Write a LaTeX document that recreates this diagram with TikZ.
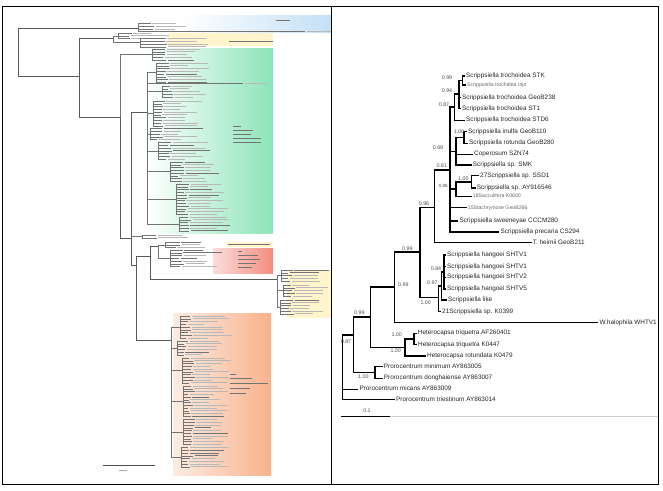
\documentclass[tikz,border=0pt]{standalone}
\usepackage{fontspec}
\setmainfont{Liberation Sans}

\definecolor{bandblue}{RGB}{196,224,246}
\definecolor{bandyel}{RGB}{255,244,204}
\definecolor{bandgreen}{RGB}{140,228,184}
\definecolor{bandred}{RGB}{244,140,128}
\definecolor{bandorange}{RGB}{248,178,140}

% one small clade of the left tree: parent, node x, first y, leaves, tip x, name
\newcommand\lgrp[6]{%
  \pgfmathsetmacro\ylo{#3}%
  \pgfmathsetmacro\yhi{#3+(#4-1)*2.75}%
  \coordinate (#6) at (#2,{(\ylo+\yhi)/2});
  \draw[lbr] (#1) |- (#6);
  \draw[lbr] (#2,\ylo) -- (#2,\yhi);
  \foreach \k in {1,...,#4}{%
    \pgfmathsetmacro\yy{#3+(\k-1)*2.75}%
    \pgfmathsetmacro\tx{#5+7*rnd}%
    \pgfmathsetmacro\ll{16+24*rnd}%
    \pgfmathtruncatemacro\dk{rnd<0.25 ? 55 : 28}%
    \draw[lbr] (#2,\yy) -- (\tx,\yy);
    \draw[ltxt, black!\dk] (\tx+1.5,\yy) -- ++(\ll,0);
  }%
}

\begin{document}
\begin{tikzpicture}[
    x=1pt, y=-1pt,
    br/.style={draw, line width=1.5pt},
    leaf/.style={anchor=west, inner sep=1pt, text height=4.6pt, text depth=1.3pt, font=\fontsize{6.4}{7}\selectfont, text=black!85},
    leafs/.style={leaf, font=\fontsize{5.2}{6}\selectfont, text=black!60},
    bval/.style={inner sep=0pt, font=\fontsize{5.3}{6}\selectfont, text=black!70},
    lbk/.style={draw, line width=0.8pt, black!65},
    lbr/.style={draw, line width=0.45pt, black!55},
    ltxt/.style={draw, line width=0.9pt},
    btxt/.style={draw, line width=1pt, black!55}
]
\useasboundingbox (0,0) rectangle (663,490);
\pgfmathsetseed{3}

% ---------------- left panel ----------------
\begin{scope}
\clip (2,6) rectangle (331,484);

% coloured clade bands
\shade[left color=white, right color=bandblue] (180,15) rectangle (331,32);
\fill[bandyel] (168,33) rectangle (273,46);
\shade[left color=white, right color=bandgreen] (147,48) rectangle (273,233);
\fill[bandyel] (227,242) rectangle (273,247);
\shade[left color=bandred!30, right color=bandred] (213,248) rectangle (273,273);
\fill[bandyel] (287,270) rectangle (331,318);
\shade[left color=bandorange!25, right color=bandorange] (173,313) rectangle (271,475);

% clade captions
\draw[btxt] (276,20) -- ++(14,0);
\draw[btxt] (229,41) -- ++(44,0);
\foreach \yy/\ll in {126/8, 130/20, 134/18, 138/28, 142/28}
  \draw[btxt] (233,\yy) -- ++(\ll,0);
\draw[btxt] (228,244.5) -- ++(42,0);
\foreach \yy/\ll in {251/4, 255/20, 259/22, 263/18, 267/14}
  \draw[btxt] (238,\yy) -- ++(\ll,0);
\foreach \yy/\ll in {374/6, 378/22, 383/38, 388/20, 393/16}
  \draw[btxt] (230,\yy) -- ++(\ll,0);

% backbone
\coordinate (l_root) at (18.3,52);
\coordinate (l_og) at (138,28.3);
\coordinate (l_n0) at (79,76.7);
\coordinate (l_ms) at (113,38);
\coordinate (l_n1) at (120,117);
\coordinate (l_n2) at (131.7,238);
\coordinate (l_gm) at (147,112);
\coordinate (l_n3) at (136.7,265);
\coordinate (l_n4) at (150,256.7);
\coordinate (l_rd) at (158,246);
\coordinate (l_rc) at (277,279.3);
\coordinate (l_or) at (171.7,340);

\draw[lbk] (l_root) |- (l_og);
\draw[lbk] (l_root) |- (l_n0);
\draw[lbk] (l_n0) |- (l_ms);
\draw[lbk] (l_n0) |- (l_n1);
\draw[lbk] (l_n1) |- (l_n2);
\draw[lbk] (l_n2) |- (l_gm);
\draw[lbk] (l_n2) |- (l_n3);
\draw[lbk] (l_n3) |- (l_n4);
\draw[lbk] (l_n3) |- (l_or);
\draw[lbk] (l_n4) |- (l_rd);
\draw[lbk] (l_n4) |- (l_rc);

% outgroup and Mesostoma
\lgrp{l_og}{138}{23.5}{3}{150}{l_og1}
\draw[lbr] (l_og) |- (305,31.5);
\draw[ltxt, black!28] (306.5,31.5) -- ++(30,0);
\lgrp{l_ms}{118}{33}{3}{126}{l_ms1}
\lgrp{l_ms}{140}{38.5}{4}{160}{l_ms2}

% green clade
\lgrp{l_n1}{152}{49}{5}{160}{l_gt}
\lgrp{l_gm}{156}{63}{8}{163}{l_g1}
\draw[lbr] (l_gm) |- (243,83.6);
\draw[ltxt, black!28] (244.5,83.6) -- ++(22,0);
\lgrp{l_gm}{162}{86}{5}{168}{l_g2}
\lgrp{l_gm}{153}{101}{10}{160}{l_g3}
\lgrp{l_gm}{150}{128.5}{5}{157}{l_g4}
\lgrp{l_gm}{158}{142.5}{7}{166}{l_g5}
\lgrp{l_gm}{170}{162}{8}{178}{l_g6}
\lgrp{l_gm}{176}{184}{12}{183}{l_g7}
\lgrp{l_gm}{179}{217}{6}{185}{l_g8}
\lgrp{l_n2}{142}{235}{2}{150}{l_gs}

% red clade and long branch
\lgrp{l_rd}{165}{242}{3}{175}{l_rd1}
\lgrp{l_rd}{170}{250}{7}{178}{l_rd2}
\lgrp{l_rc}{281}{270}{5}{286}{l_rc1}
\lgrp{l_rc}{283}{285}{5}{290}{l_rc2}
\lgrp{l_rc}{280}{300}{6}{288}{l_rc3}

% orange clade
\lgrp{l_or}{180}{316}{9}{186}{l_o1}
\lgrp{l_or}{177}{341}{6}{183}{l_o2}
\lgrp{l_or}{182}{358}{10}{188}{l_o3}
\lgrp{l_or}{183}{386}{12}{188}{l_o4}
\lgrp{l_or}{183}{419.5}{10}{188}{l_o5}
\lgrp{l_or}{181}{447.5}{8}{187}{l_o6}

% scale bar
\coordinate (l_bar_l) at (103,465);
\coordinate (l_bar_r) at (155,465);
\draw[line width=0.8pt, black!70] (l_bar_l) -- (l_bar_r);
\draw[ltxt, black!35, line width=0.8pt] (119,470.5) -- ++(8,0);
\end{scope}

% ---------------- right panel ----------------
\begin{scope}
\clip (331,6) rectangle (658,484);

% leaves
\node[leaf] (t_stk) at (465,76) {Scrippsiella trochoidea STK};
\node[leafs] (t_injo) at (466,85) {Scrippsiella trochidea Injo};
\node[leaf] (t_g238) at (461,97.7) {Scrippsiella trochoidea GeoB238};
\node[leaf] (t_st1) at (461,108.7) {Scrippsiella trochoidea ST1};
\node[leaf] (t_std6) at (465,120.3) {Scrippsiella trochoidea STD6};
\node[leaf] (t_g110) at (467,131.7) {Scrippsiella inulfa GeoB110};
\node[leaf] (t_g280) at (468,143.3) {Scrippsiella rotunda GeoB280};
\node[leaf] (t_szn) at (473,154.3) {Coperosum SZN74};
\node[leaf] (t_smk) at (471.7,165) {Scrippsiella sp. SMK};
\node[leaf] (t_ssd1) at (479,175.7) {27Scrippsiella sp. SSD1};
\node[leaf] (t_ay546) at (475.7,188) {Scrippsiella sp. AY916546};
\node[leafs] (t_k0600) at (471.7,196.3) {18Sacculifera K0600};
\node[leafs] (t_g266) at (466.7,207.7) {15Stachrymose GeoB266};
\node[leaf] (t_cccm) at (458.3,221) {Scrippsiella sweeneyae CCCM280};
\node[leaf] (t_cs294) at (499.3,232) {Scrippsiella precaria CS294};
\node[leaf] (t_g211) at (531.7,242.7) {T. heimii GeoB211};
\node[leaf] (t_shtv1a) at (446,255) {Scrippsiella hangoei SHTV1};
\node[leaf] (t_shtv1b) at (446,266.7) {Scrippsiella hangoei SHTV1};
\node[leaf] (t_shtv2) at (446,277.3) {Scrippsiella hangoei SHTV2};
\node[leaf] (t_shtv5) at (446,289) {Scrippsiella hangoei SHTV5};
\node[leaf] (t_like) at (447,300) {Scrippsiella like};
\node[leaf] (t_k0399) at (441,311.7) {21Scrippsiella sp. K0399};
\node[leaf] (t_whtv) at (598.3,322.7) {W.halophila WHTV1};
\node[leaf] (t_af401) at (416.7,333.3) {Heterocapsa triquetra AF260401};
\node[leaf] (t_k0447) at (417,344.7) {Heterocapsa triquetra K0447};
\node[leaf] (t_k0479) at (426,356) {Heterocapsa rotundata K0479};
\node[leaf] (t_ay005) at (382.7,366.7) {Prorocentrum minimum AY863005};
\node[leaf] (t_ay007) at (382.7,378.3) {Prorocentrum donghaiense AY863007};
\node[leaf] (t_ay009) at (358.3,389.3) {Prorocentrum micans AY863009};
\node[leaf] (t_ay014) at (395,399.7) {Prorocentrum triestinum AY863014};

% inner nodes
\coordinate (n_root) at (342.3,345);
\coordinate (n_b) at (353.3,335);
\coordinate (n_a) at (370.7,317);
\coordinate (n_p) at (375,372.5);
\coordinate (n_c) at (394.3,287);
\coordinate (n_q) at (405,347.7);
\coordinate (n_r) at (414,339);
\coordinate (n_d) at (420,252);
\coordinate (n_i) at (434.3,207.3);
\coordinate (n_e) at (438.3,297.3);
\coordinate (n_g) at (441.5,286);
\coordinate (n_h) at (444,272);
\coordinate (n_j) at (450,170);
\coordinate (n_k) at (454.3,107);
\coordinate (n_x2) at (459,94);
\coordinate (n_x1) at (462.7,80.5);
\coordinate (n_l) at (456,151.5);
\coordinate (n_x3) at (464,137.5);
\coordinate (n_n) at (456,189);
\coordinate (n_m) at (471.7,181.8);

% branches
\draw[br] (n_root) |- (n_b);
\draw[br] (n_root) |- (t_ay009.west);
\draw[br] (n_root) |- (t_ay014.west);
\draw[br] (n_b) |- (n_a);
\draw[br] (n_b) |- (n_p);
\draw[br] (n_p) |- (t_ay005.west);
\draw[br] (n_p) |- (t_ay007.west);
\draw[br] (n_a) |- (n_c);
\draw[br] (n_a) |- (n_q);
\draw[br] (n_q) |- (n_r);
\draw[br] (n_q) |- (t_k0479.west);
\draw[br] (n_r) |- (t_af401.west);
\draw[br] (n_r) |- (t_k0447.west);
\draw[br] (n_c) |- (n_d);
\draw[br] (n_c) |- (t_whtv.west);
\draw[br] (n_d) |- (n_i);
\draw[br] (n_d) |- (n_e);
\draw[br] (n_e) |- (n_g);
\draw[br] (n_e) |- (t_k0399.west);
\draw[br] (n_g) |- (n_h);
\draw[br] (n_g) |- (t_like.west);
\draw[br] (n_h) |- (t_shtv1a.west);
\draw[br] (n_h) |- (t_shtv1b.west);
\draw[br] (n_h) |- (t_shtv2.west);
\draw[br] (n_h) |- (t_shtv5.west);
\draw[br] (n_i) |- (n_j);
\draw[br] (n_i) |- (t_g211.west);
\draw[br] (n_j) |- (n_k);
\draw[br] (n_j) |- (n_l);
\draw[br] (n_j) |- (n_n);
\draw[br] (n_j) |- (t_g266.west);
\draw[br] (n_j) |- (t_cccm.west);
\draw[br] (n_j) |- (t_cs294.west);
\draw[br] (n_k) |- (n_x2);
\draw[br] (n_k) |- (t_std6.west);
\draw[br] (n_x2) |- (n_x1);
\draw[br] (n_x2) |- (t_g238.west);
\draw[br] (n_x2) |- (t_st1.west);
\draw[br] (n_x1) |- (t_stk.west);
\draw[br] (n_x1) |- (t_injo.west);
\draw[br] (n_l) |- (n_x3);
\draw[br] (n_l) |- (t_szn.west);
\draw[br] (n_l) |- (t_smk.west);
\draw[br] (n_x3) |- (t_g110.west);
\draw[br] (n_x3) |- (t_g280.west);
\draw[br] (n_n) |- (n_m);
\draw[br] (n_n) |- (t_k0600.west);
\draw[br] (n_m) |- (t_ssd1.west);
\draw[br] (n_m) |- (t_ay546.west);

% support values
\node[bval] (s_x1) at (447,77.5) {0.99};
\node[bval] (s_x2) at (447,90.5) {0.94};
\node[bval] (s_k) at (444,104.3) {0.87};
\node[bval] (s_x3) at (459,131.5) {1.00};
\node[bval] (s_l) at (438,148) {0.69};
\node[bval] (s_j) at (441.7,166) {0.81};
\node[bval] (s_m) at (463.3,178.3) {1.00};
\node[bval, font=\fontsize{4.6}{5}\selectfont] (s_n) at (443.3,186) {0.98};
\node[bval] (s_i) at (424,203.3) {0.96};
\node[bval] (s_d) at (407.3,248.3) {0.99};
\node[bval] (s_h) at (436,269) {0.84};
\node[bval] (s_g) at (432.3,282.7) {0.97};
\node[bval] (s_c) at (403.3,285) {0.99};
\node[bval] (s_e) at (425.7,302.3) {1.00};
\node[bval] (s_a) at (359.3,312.7) {0.99};
\node[bval] (s_b) at (346,341.7) {0.87};
\node[bval] (s_r) at (396.7,334.3) {1.00};
\node[bval] (s_q) at (395.7,350.7) {1.00};
\node[bval] (s_p) at (363.3,376.7) {1.00};

% scale bar
\coordinate (bar_l) at (341,416.7);
\coordinate (bar_r) at (390,416.7);
\coordinate (bar_e) at (658,416.7);
\draw[br] (bar_l) -- (bar_r);
\draw[black!20, line width=0.5pt] (bar_r) -- (bar_e);
\node[bval] (s_bar) at (367,410.5) {0.1};
\end{scope}

% frame
\draw[line width=0.9pt] (2,6) rectangle (658,484);
\draw[line width=0.9pt] (331,6) -- (331,484);
\end{tikzpicture}
\end{document}
